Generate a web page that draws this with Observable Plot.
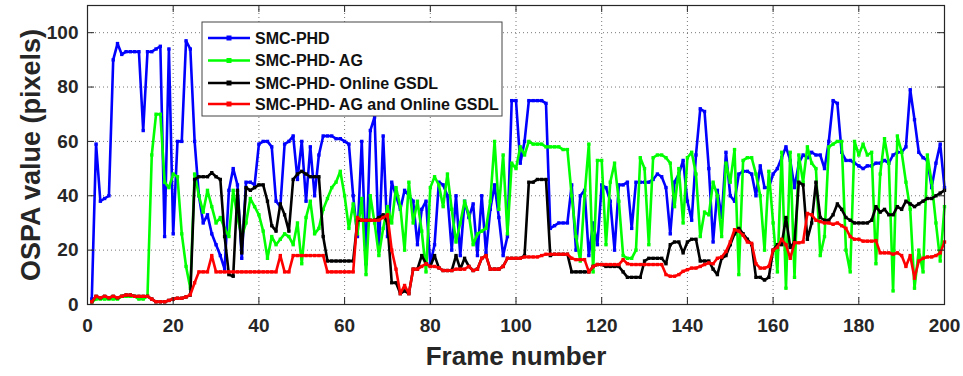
<!DOCTYPE html>
<html>
<head>
<meta charset="utf-8">
<script src="https://cdn.jsdelivr.net/npm/d3@7"></script>
<script src="https://cdn.jsdelivr.net/npm/@observablehq/plot@0.6"></script>
<style>
  body { margin: 0; background: #fff; }
  #chart { position: relative; width: 963px; height: 376px; }
</style>
</head>
<body>
<div id="chart"></div>
<script>
// OSPA error per frame for four tracker variants (frames 1..200)
const frames = d3.range(1, 201);

const seriesNames = [
  "SMC-PHD",
  "SMC-PHD- AG",
  "SMC-PHD- Online GSDL",
  "SMC-PHD- AG and Online GSDL"
];
const seriesColors = ["#0000ff", "#00ff00", "#000000", "#ff0000"];

const smcPhd = [
  2, 59, 38, 39, 40, 90, 96, 92, 93, 93,
  93, 93, 64, 93, 93, 94, 95, 25, 94, 26,
  60, 60, 97, 94, 60, 40, 30, 33, 26, 22,
  18, 13, 42, 50, 44, 17, 45, 45, 44, 59,
  60, 60, 58, 38, 36, 59, 60, 62, 46, 60,
  38, 58, 40, 55, 62, 62, 62, 61, 61, 60,
  59, 40, 25, 60, 15, 64, 69, 20, 62, 25,
  45, 40, 35, 42, 40, 38, 22, 35, 38, 15,
  22, 45, 44, 40, 20, 40, 18, 38, 32, 37,
  18, 40, 19, 35, 44, 32, 18, 25, 75, 75,
  52, 60, 75, 75, 75, 75, 74, 28, 29, 30,
  30, 30, 44, 20, 40, 42, 18, 30, 22, 44,
  43, 38, 20, 44, 44, 45, 28, 45, 45, 45,
  45, 46, 48, 47, 43, 26, 45, 48, 53, 38,
  31, 55, 72, 71, 50, 23, 42, 32, 56, 40,
  38, 48, 49, 49, 48, 40, 51, 43, 43, 48,
  50, 54, 58, 53, 43, 52, 55, 54, 56, 55,
  55, 50, 60, 75, 74, 56, 53, 53, 52, 51,
  50, 51, 51, 52, 52, 53, 52, 55, 56, 56,
  58, 79, 68, 56, 54, 53, 43, 52, 59, 43
];

const smcPhdAg = [
  1, 2, 2, 2, 2, 2, 2, 3, 3, 3,
  3, 2, 2, 3, 55, 70, 70, 45, 43, 48,
  47, 26, 14, 6, 48, 40, 34, 42, 36, 30,
  32, 28, 25, 42, 32, 25, 30, 39, 36, 33,
  27, 17, 25, 22, 24, 26, 25, 22, 30, 15,
  32, 38, 26, 28, 35, 39, 43, 45, 49, 40,
  28, 37, 26, 39, 11, 40, 30, 18, 28, 36,
  30, 43, 36, 20, 45, 30, 38, 27, 12, 43,
  47, 44, 36, 48, 35, 23, 30, 38, 33, 22,
  26, 27, 28, 38, 60, 35, 55, 26, 52, 50,
  58, 55, 60, 59, 59, 59, 58, 58, 58, 58,
  57, 57, 40, 25, 16, 40, 59, 12, 53, 53,
  22, 45, 52, 38, 18, 17, 17, 20, 54, 50,
  22, 54, 55, 55, 54, 52, 36, 50, 30, 54,
  56, 48, 25, 34, 33, 45, 40, 25, 52, 45,
  57, 11, 53, 54, 54, 48, 40, 20, 49, 30,
  12, 56, 6, 56, 10, 55, 45, 58, 52, 50,
  18, 25, 58, 59, 60, 60, 20, 12, 60, 55,
  59, 55, 56, 15, 48, 61, 52, 5, 62, 56,
  45, 35, 6, 20, 12, 55, 45, 30, 16, 36
];

const smcPhdGsdl = [
  1, 3, 2.5, 3, 2.5, 3, 2.5, 3, 3.5, 3.5,
  3, 3, 3, 3, 2, 1, 1, 1, 1.5, 2,
  2.3, 2.3, 2.8, 3.5, 46, 47, 47, 47, 48.5, 47,
  46, 25, 11, 10.4, 42, 19, 43, 42, 43, 44,
  44, 38, 29, 27, 37, 33, 27, 46, 48, 49,
  48, 47, 47, 47, 25, 16, 16, 16, 16, 16,
  16, 16, 31, 31, 31, 31, 31, 32, 33, 30,
  8, 8, 4, 5, 4, 13, 13, 18, 15, 14,
  18, 13.5, 12.5, 12.5, 12.5, 18, 13, 17, 14, 12.5,
  13, 17, 18, 13, 13, 13, 14, 17, 17, 17,
  17, 18, 45, 45, 46, 46, 46, 18, 18.5, 18.5,
  18.5, 18.5, 12, 12, 12, 12, 12, 14, 14.7, 14.7,
  14, 14, 14, 14, 12, 10, 10, 10, 10, 16,
  17, 17, 17, 17, 15, 22, 23, 23, 19, 23,
  24, 24, 16, 16, 16, 13, 11, 17, 18, 22,
  26, 28, 26, 24, 22, 10, 10, 9, 10, 20,
  22, 22, 32, 21, 23, 45, 44, 24, 30, 45,
  32, 31, 31, 33, 37, 35, 32, 31, 30, 30,
  30, 30, 31, 36, 34, 35, 33, 33, 36, 35,
  38, 37, 36, 37, 38, 39, 39, 40, 41, 42
];

const smcPhdAgGsdl = [
  1, 3, 2.5, 3, 2.5, 3, 2.5, 3, 3.5, 3.5,
  3, 3, 3, 3, 2, 1, 1, 1, 1.5, 2,
  2.3, 2.3, 2.8, 3.6, 8, 12, 12, 12, 18, 12,
  12, 12, 12, 12, 12, 12, 12, 12, 12, 12,
  12, 12, 12, 12, 18, 12, 12, 18, 18, 18,
  18, 18, 18, 18, 18, 12, 12, 12, 12, 12,
  12, 12, 32, 31, 31, 31, 31, 31, 32, 33,
  20, 13, 4, 7, 4, 13, 13, 14, 15, 14,
  14, 13.5, 12.5, 12.5, 12.5, 13, 13, 13, 14, 12.5,
  13, 17, 18, 13, 13, 13, 14, 17, 17, 17,
  17, 17.5, 17.5, 17.5, 17.5, 18, 18.5, 18.5, 18.5, 18.5,
  18.5, 18.5, 17, 16.5, 16.5, 16.5, 12, 14, 14.7, 14.7,
  14.7, 14.7, 14.7, 14.7, 16.5, 15, 14.7, 14.7, 14.7, 14.7,
  14.7, 14.7, 14.7, 14.7, 11, 10.4, 10.4, 11, 12.2, 12.8,
  13.4, 13.4, 14, 14.7, 15.3, 15, 17, 17.5, 19.5, 23,
  27.5, 27, 25.5, 23, 22.5, 15, 13.4, 13.4, 14, 20,
  21, 24, 22, 17, 22.7, 22.7, 23, 33.5, 33, 31,
  30.5, 30, 30, 29.5, 30, 29, 28, 25, 24, 24,
  23.3, 23.3, 23.3, 23.5, 19, 19, 19, 18.5, 19, 18,
  14, 18, 9.7, 16, 17, 17.5, 17.5, 18, 19, 23
];

const xTicks = d3.range(0, 201, 20);
const yTicks = d3.range(0, 101, 20);

const seriesValues = [smcPhd, smcPhdAg, smcPhdGsdl, smcPhdAgGsdl];
const tables = seriesValues.map((vals) =>
  vals.map((v, i) => ({frame: frames[i], value: v}))
);

const W = 963, H = 376;
const mL = 87, mR = 19, mT = 5, mB = 72;
const innerW = W - mL - mR, innerH = H - mT - mB;
const tickLen = 7;
const ink = "#262626";

const dataMarks = tables.flatMap((t, k) => [
  Plot.lineY(t, {x: "frame", y: "value", stroke: seriesColors[k], strokeWidth: 2.6}),
  Plot.dot(t, {x: "frame", y: "value", symbol: "square", r: 1.9, fill: seriesColors[k], stroke: "none"})
]);

const chart = Plot.plot({
  width: W,
  height: H,
  marginLeft: mL,
  marginRight: mR,
  marginTop: mT,
  marginBottom: mB,
  style: {fontFamily: "'Liberation Sans', Arial, sans-serif", fontWeight: "bold", fontSize: "19px", color: ink, background: "#fff"},
  x: {domain: [0, 200]},
  y: {domain: [0, 110]},
  marks: [
    Plot.gridX(xTicks.slice(1, -1), {stroke: "#555", strokeOpacity: 0.8, strokeDasharray: "1,3"}),
    Plot.gridY(yTicks.slice(1), {stroke: "#555", strokeOpacity: 0.8, strokeDasharray: "1,3"}),
    ...dataMarks,
    // inward ticks on all four sides
    Plot.tickX(xTicks, {x: (d) => d, stroke: ink, insetTop: innerH - tickLen}),
    Plot.tickX(xTicks, {x: (d) => d, stroke: ink, insetBottom: innerH - tickLen}),
    Plot.tickY(yTicks, {y: (d) => d, stroke: ink, insetRight: innerW - tickLen}),
    Plot.tickY(yTicks, {y: (d) => d, stroke: ink, insetLeft: innerW - tickLen}),
    Plot.axisX(xTicks, {tickSize: 0, tickPadding: 14, label: null, fill: ink}),
    Plot.axisY(yTicks, {tickSize: 0, tickPadding: 9, label: null, fill: ink}),
    Plot.frame({stroke: ink, strokeWidth: 1.2}),
    Plot.text(["Frame number"], {frameAnchor: "bottom", lineAnchor: "middle", dy: 52, fontSize: 26, fill: ink}),
    Plot.text(["OSPA value (pixels)"], {frameAnchor: "left", textAnchor: "middle", dx: -56, rotate: -90, fontSize: 27, fill: ink})
  ]
});

document.getElementById("chart").appendChild(chart);

// Legend box drawn over the upper plot area
const svg = d3.select(chart);
const lg = svg.append("g").attr("class", "legend").attr("text-anchor", "start");
const boxX = 202, boxY = 22, boxW = 300, boxH = 94;
lg.append("rect")
  .attr("x", boxX).attr("y", boxY).attr("width", boxW).attr("height", boxH)
  .attr("fill", "#fff").attr("stroke", "#444").attr("stroke-width", 1);
const rowY = [38, 60.5, 83, 104];
seriesNames.forEach((name, k) => {
  const y = rowY[k];
  lg.append("line")
    .attr("x1", 208).attr("x2", 250).attr("y1", y).attr("y2", y)
    .attr("stroke", seriesColors[k]).attr("stroke-width", 2.6);
  lg.append("rect")
    .attr("x", 226.5).attr("y", y - 2.5).attr("width", 5).attr("height", 5)
    .attr("fill", seriesColors[k]);
  lg.append("text")
    .attr("x", 255).attr("y", y).attr("dy", "0.36em")
    .attr("text-anchor", "start")
    .attr("font-size", 16).attr("font-weight", "bold").attr("fill", "#111")
    .text(name);
});
</script>
</body>
</html>
